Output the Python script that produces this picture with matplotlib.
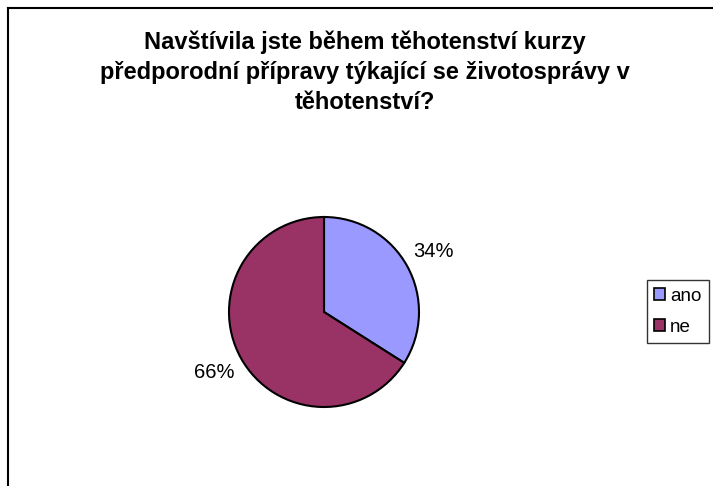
import matplotlib.pyplot as plt
from matplotlib.patches import Patch
from matplotlib.lines import Line2D

plt.rcParams['font.family'] = ['Liberation Sans', 'DejaVu Sans']

labels = ['ano', 'ne']
shares = [34, 66]
colors = ['#9999FF', '#993366']
title = ('Navštívila jste během těhotenství kurzy\n'
         'předporodní přípravy týkající se životosprávy v\n'
         'těhotenství?')

fig = plt.figure(figsize=(7.13, 4.86), dpi=100)

# chart area frame (only top and left edges fall inside the image)
fig.add_artist(Line2D([8 / 713, 8 / 713], [0, 1 - 8 / 486], color='black', lw=1.5,
                      transform=fig.transFigure))
fig.add_artist(Line2D([8 / 713, 1], [1 - 8 / 486, 1 - 8 / 486], color='black', lw=1.5,
                      transform=fig.transFigure))

fig.text(365 / 713, 1 - 72 / 486, title, ha='center', va='center', fontsize=17,
         fontweight='bold', linespacing=1.4)

r = 95
cx, cy = 324, 312
ax = fig.add_axes([(cx - r) / 713, 1 - (cy + r) / 486, 2 * r / 713, 2 * r / 486])
wedges, texts, autotexts = ax.pie(
    shares, colors=colors, startangle=90, counterclock=False,
    autopct='%d%%', pctdistance=1.32,
    wedgeprops=dict(edgecolor='black', linewidth=1.5),
    textprops=dict(fontsize=14.5))
ax.set_aspect('auto')
ax.set_xlim(-1, 1)
ax.set_ylim(-1, 1)

handles = [Patch(facecolor=c, edgecolor='black', linewidth=1.2) for c in colors]
leg = fig.legend(handles, labels, loc='upper right',
                 bbox_to_anchor=(709 / 713, 1 - 280 / 486), fontsize=13.5,
                 frameon=True, fancybox=False, handlelength=0.6, handleheight=0.6,
                 handletextpad=0.25, borderpad=0.4, labelspacing=0.75,
                 borderaxespad=0)
leg.get_frame().set_edgecolor('black')
leg.get_frame().set_linewidth(1.0)

fig.savefig('out.png', dpi=100)
